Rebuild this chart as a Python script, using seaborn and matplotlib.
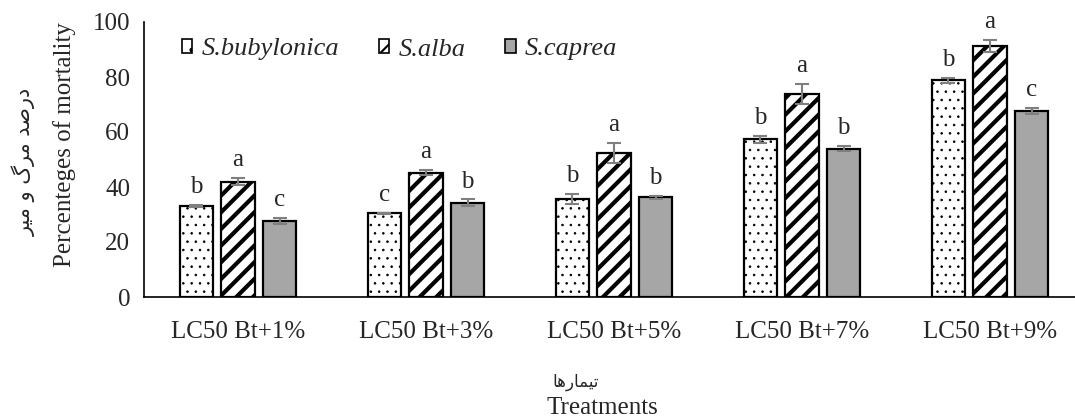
import numpy as np
import pandas as pd
import seaborn as sns
import matplotlib.pyplot as plt
from matplotlib.patches import Patch

# data
treatments = ['LC50 Bt+1%', 'LC50 Bt+3%', 'LC50 Bt+5%', 'LC50 Bt+7%', 'LC50 Bt+9%']
species = ['S.bubylonica', 'S.alba', 'S.caprea']

mortality_bubylonica = [33.1, 30.4, 35.7, 57.3, 78.8]
mortality_alba = [41.9, 45.2, 52.5, 73.8, 91.4]
mortality_caprea = [27.7, 34.3, 36.2, 53.9, 67.7]

err_bubylonica = [0.5, 0.3, 1.9, 1.2, 0.9]
err_alba = [1.3, 1.0, 3.6, 3.6, 2.2]
err_caprea = [1.0, 1.2, 0.6, 0.9, 1.0]

letters_bubylonica = ['b', 'c', 'b', 'b', 'b']
letters_alba = ['a', 'a', 'a', 'a', 'a']
letters_caprea = ['c', 'b', 'b', 'b', 'c']

# Persian labels (presentation forms, visual order)
ylabel_fa = '\uFEAE\uFEF4\uFEE3 \uFEED \uFB92\uFEAE\uFEE3 \uFEAA\uFEBB\uFEAD\uFEA9'
xlabel_fa = '\uFE8E\uFEEB\uFEAD\uFE8E\uFEE4\uFEF4\uFE97'

errors = [err_bubylonica, err_alba, err_caprea]
letters = [letters_bubylonica, letters_alba, letters_caprea]

df = pd.DataFrame({
    'Treatment': treatments * 3,
    'Species': np.repeat(species, len(treatments)),
    'Mortality': mortality_bubylonica + mortality_alba + mortality_caprea,
})

sns.set_style('white')
plt.rcParams['font.family'] = ['Liberation Serif', 'DejaVu Sans']

colors = ['white', 'white', '#A6A6A6']
hatches = ['..', '//', '']
hatch_lw = [0.6, 3.0, 1.0]

fig = plt.figure(figsize=(10.75, 4.18), dpi=100)
ax = fig.add_axes([144 / 1075, 1 - 297 / 418, 940 / 1075, 275 / 418])

sns.barplot(data=df, x='Treatment', y='Mortality', hue='Species',
            palette=colors, saturation=1, width=0.666, gap=0.2,
            edgecolor='black', linewidth=1.6, errorbar=None,
            legend=False, ax=ax)

bar_groups = list(ax.containers)
for i, container in enumerate(bar_groups):
    xs, ys = [], []
    for bar in container:
        bar.set_hatch(hatches[i])
        if hasattr(bar, 'set_hatch_linewidth'):
            bar.set_hatch_linewidth(hatch_lw[i])
        xs.append(bar.get_x() + bar.get_width() / 2)
        ys.append(bar.get_height())
    ax.errorbar(xs, ys, yerr=errors[i], fmt='none', ecolor='#7F7F7F',
                elinewidth=1.5, capsize=5, capthick=1.5, zorder=3)
    for x, y, e, s in zip(xs, ys, errors[i], letters[i]):
        ax.annotate(s, (x, y + e), xytext=(0, 8.5), textcoords='offset points',
                    ha='center', va='baseline', fontsize=18)

ax.set_ylim(0, 100)
ax.set_xlim(-0.5, 4.5)
ax.set_yticks(range(0, 101, 20))
ax.tick_params(axis='both', length=0, labelsize=18)
ax.tick_params(axis='y', pad=10)
ax.tick_params(axis='x', pad=17)

for side in ['top', 'right']:
    ax.spines[side].set_visible(False)
for side in ['left', 'bottom']:
    ax.spines[side].set_color('black')
    ax.spines[side].set_linewidth(1.2)

ax.set_xlabel('')
ax.set_ylabel('Percenteges of mortality', fontsize=18, va='center')
ax.yaxis.set_label_coords((65 - 144) / 940, (297 - 145) / 275)

fig.text(602 / 1075, 1 - 408 / 418, 'Treatments', ha='center', va='center', fontsize=18)
fig.text(576 / 1075, 1 - 382 / 418, xlabel_fa, ha='center', va='center',
         fontsize=12, family='DejaVu Sans')
fig.text(24 / 1075, 1 - 162 / 418, ylabel_fa, ha='center', va='center',
         rotation=90, fontsize=15, family='DejaVu Sans')

handles = [Patch(facecolor=c, edgecolor='black', hatch=h, linewidth=1.2, label=s)
           for c, h, s in zip(colors, ['.', '/', ''], species)]
leg = ax.legend(handles=handles, loc='upper left', ncol=3, frameon=False,
                bbox_to_anchor=(0.04, 0.94), borderaxespad=0, borderpad=0,
                prop={'family': 'Liberation Serif', 'style': 'italic', 'size': 19},
                handlelength=0.4, handleheight=0.4, handletextpad=0.35,
                columnspacing=1.5)
for p, lw in zip(leg.get_patches(), [0.8, 1.5, 1.0]):
    if hasattr(p, 'set_hatch_linewidth'):
        p.set_hatch_linewidth(lw)

fig.savefig('out.png', dpi=100)
